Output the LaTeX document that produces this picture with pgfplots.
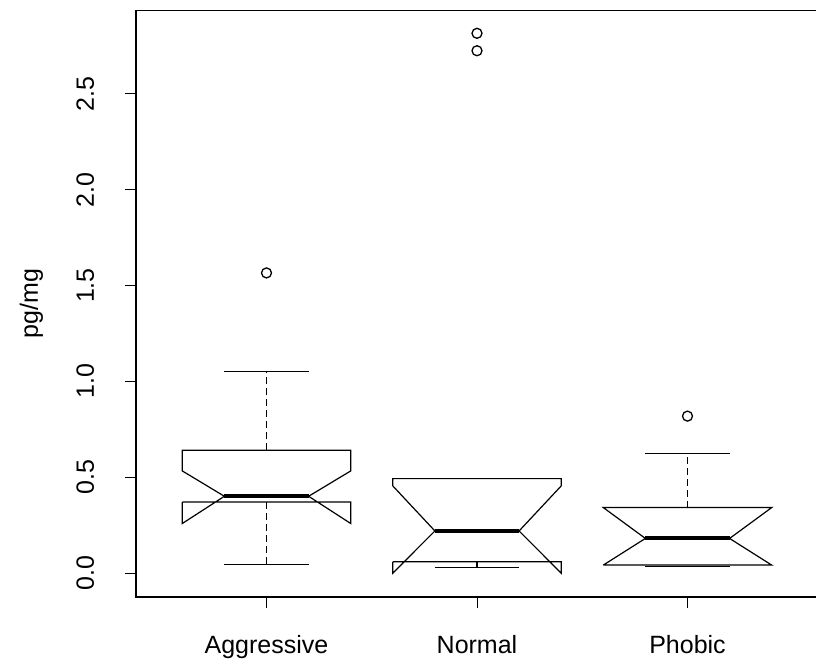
\documentclass[border=0pt]{standalone}
\usepackage{fontspec}
\setmainfont{Liberation Sans}
\usepackage{pgfplots}
\pgfplotsset{compat=1.18}
\begin{document}
\begin{tikzpicture}
\path[use as bounding box] (-136pt,-67pt) rectangle (680pt,597pt);
\begin{axis}[
  at={(0pt,0pt)}, anchor=south west,
  scale only axis, width=682pt, height=586.7pt,
  xmin=0.38, xmax=3.62, ymin=-0.1245, ymax=2.936,
  axis line style={line width=1.2pt},
  xtick={1,2,3}, xticklabels={Aggressive,Normal,Phobic},
  ytick={0,0.5,1,1.5,2,2.5},
  xtick pos=bottom, ytick pos=left,
  tick align=outside, major tick length=11pt,
  tick style={line width=1pt, black},
  font=\fontsize{25}{30}\selectfont,
  /pgf/number format/assume math mode=true,
  yticklabel style={/pgf/number format/fixed, /pgf/number format/fixed zerofill, /pgf/number format/precision=1,
    xshift=-31pt, rotate=90, anchor=base},
  xticklabel style={anchor=base, yshift=-45pt},
  ylabel={pg/mg},
  every axis y label/.style={at={(axis description cs:0,0.5)}, xshift=-98pt, rotate=90, anchor=base},
  clip=false,
]
% whiskers (dashed)
\addplot[black, line width=1.1pt, dash pattern=on 7pt off 4pt] coordinates {(1,0.641) (1,1.052)};
\addplot[black, line width=1.1pt, dash pattern=on 7pt off 4pt] coordinates {(1,0.371) (1,0.043)};
\addplot[black, line width=1.1pt, dash pattern=on 7pt off 4pt] coordinates {(2,0.059) (2,0.028)};
\addplot[black, line width=1.1pt, dash pattern=on 7pt off 4pt] coordinates {(3,0.342) (3,0.623)};
% staples
\addplot[black, line width=1.2pt] coordinates {(0.8,1.052) (1.2,1.052)};
\addplot[black, line width=1.2pt] coordinates {(0.8,0.043) (1.2,0.043)};
\addplot[black, line width=1.2pt] coordinates {(1.8,0.493) (2.2,0.493)};
\addplot[black, line width=1.2pt] coordinates {(1.8,0.028) (2.2,0.028)};
\addplot[black, line width=1.2pt] coordinates {(2.8,0.623) (3.2,0.623)};
\addplot[black, line width=1.2pt] coordinates {(2.8,0.034) (3.2,0.034)};
% notched boxes
\addplot[black, line width=1.2pt, line join=miter] coordinates {
 (0.6,0.371) (0.6,0.259) (0.8,0.401) (0.6,0.533) (0.6,0.641) (1.4,0.641)
 (1.4,0.533) (1.2,0.401) (1.4,0.259) (1.4,0.371) (0.6,0.371)};
\addplot[black, line width=1.2pt, line join=miter] coordinates {
 (1.6,0.059) (1.6,0.000) (1.8,0.220) (1.6,0.455) (1.6,0.493) (2.4,0.493)
 (2.4,0.455) (2.2,0.220) (2.4,0.000) (2.4,0.059) (1.6,0.059)};
\addplot[black, line width=1.2pt, line join=miter] coordinates {
 (2.6,0.042) (2.6,0.042) (2.8,0.181) (2.6,0.342) (2.6,0.342) (3.4,0.342)
 (3.4,0.342) (3.2,0.181) (3.4,0.042) (3.4,0.042) (2.6,0.042)};
% medians
\addplot[black, line width=4pt] coordinates {(0.8,0.401) (1.2,0.401)};
\addplot[black, line width=4pt] coordinates {(1.8,0.220) (2.2,0.220)};
\addplot[black, line width=4pt] coordinates {(2.8,0.181) (3.2,0.181)};
% outliers
\addplot[only marks, mark=o, mark size=5pt, mark options={line width=1.3pt, black}] coordinates {
 (1,1.566) (2,2.725) (2,2.816) (3,0.819)};
\end{axis}
\end{tikzpicture}
\end{document}
